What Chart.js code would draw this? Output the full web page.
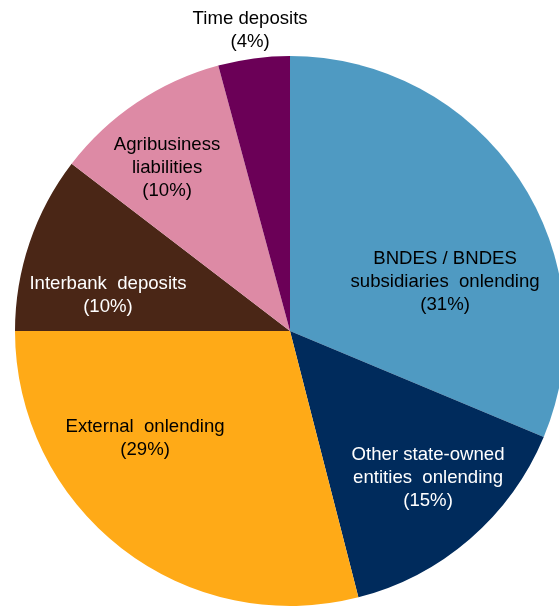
<!DOCTYPE html>
<html>
<head>
<meta charset="utf-8">
<script src="https://cdn.jsdelivr.net/npm/chart.js@4"></script>
<style>
  html, body { margin: 0; padding: 0; background: #fff; overflow: hidden; }
  #wrap { position: absolute; left: 0; top: 0; width: 580px; height: 607px; }
</style>
</head>
<body>
<div id="wrap"><canvas id="myChart"></canvas></div>
<script>
// categories, clockwise from 12 o'clock
var categories = [
  ["BNDES / BNDES", "subsidiaries  onlending"],
  ["Other state-owned", "entities  onlending"],
  ["External  onlending"],
  ["Interbank  deposits"],
  ["Agribusiness", "liabilities"],
  ["Time deposits"]
];
// share of funding, %
var shares = [31.3, 14.7, 29.0, 10.4, 10.4, 4.2];

var colors = ["#4f9ac2", "#002b5c", "#ffaa17", "#4a2616", "#dd8aa5", "#6b0057"];
var textColors = ["#000", "#fff", "#000", "#fff", "#000", "#000"];
// label block centre, relative to pie centre, in units of radius
var labelOffsets = [
  [0.564, -0.178],
  [0.502, 0.535],
  [-0.527, 0.389],
  [-0.662, -0.131],
  [-0.447, -0.593],
  [-0.145, -1.095]
];

var total = shares.reduce(function (a, b) { return a + b; }, 0);

// draws the category + percent text for each slice
var sliceLabels = {
  id: "sliceLabels",
  afterDatasetsDraw: function (chart) {
    var ctx = chart.ctx;
    var arcs = chart.getDatasetMeta(0).data;
    ctx.save();
    ctx.font = '18.6px "Liberation Sans", Arial, sans-serif';
    ctx.textAlign = "center";
    ctx.textBaseline = "middle";
    for (var i = 0; i < arcs.length; i++) {
      var arc = arcs[i];
      var r = arc.outerRadius;
      var lines = categories[i].slice();
      lines.push("(" + Math.round(shares[i] / total * 100) + "%)");
      var lh = 23;
      var cx = arc.x + labelOffsets[i][0] * r;
      var cy = arc.y + labelOffsets[i][1] * r - (lines.length - 1) * lh / 2;
      ctx.fillStyle = textColors[i];
      for (var j = 0; j < lines.length; j++) {
        ctx.fillText(lines[j], cx, cy + j * lh);
      }
    }
    ctx.restore();
  }
};

var ctx = document.getElementById("myChart").getContext("2d");
var myChart = new Chart(ctx, {
  type: "pie",
  data: {
    labels: categories.map(function (c) { return c.join(" "); }),
    datasets: [
      {
        data: shares,
        backgroundColor: colors,
        borderWidth: 0
      }
    ]
  },
  options: {
    responsive: true,
    maintainAspectRatio: false,
    animation: false,
    layout: { padding: { left: 14, right: 14, top: 56, bottom: 1 } },
    plugins: {
      legend: { display: false },
      tooltip: { enabled: false }
    }
  },
  plugins: [sliceLabels]
});
</script>
</body>
</html>
